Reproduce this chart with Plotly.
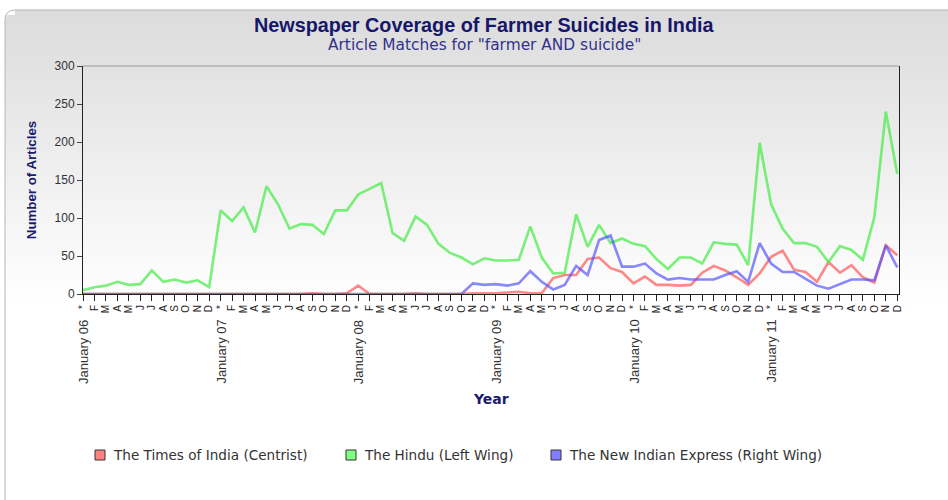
import plotly.graph_objects as go

W, H = 948, 500
L, R, T, B = 83, 49, 66, 206
PW, PH = W - L - R, H - T - B

month_letters = ["*", "F", "M", "A", "M", "J", "J", "A", "S", "O", "N", "D"]
years = ["06", "07", "08", "09", "10", "11"]
tick_labels = month_letters * len(years)
year_labels = ["January " + y for y in years]

series_names = ["The Times of India (Centrist)", "The Hindu (Left Wing)",
                "The New Indian Express (Right Wing)"]

times_of_india = [0, 0, 0, 0, 0, 0, 0, 0, 0, 0, 0, 0,
                  0, 0, 0, 0, 0, 0, 0, 0, 1, 0, 0, 1,
                  11, 0, 0, 0, 0, 1, 0, 0, 0, 0, 1, 1,
                  1, 2, 3, 1, 1, 21, 25, 25, 46, 48, 34, 29,
                  14, 23, 12, 12, 11, 12, 28, 37, 31, 22, 12, 27,
                  49, 57, 32, 29, 16, 42, 28, 38, 22, 15, 64, 51]
the_hindu = [5, 9, 11, 16, 12, 13, 31, 16, 19, 15, 18, 9,
             110, 96, 114, 81, 142, 118, 86, 92, 91, 79, 110, 110,
             131, 138, 146, 80, 70, 102, 91, 66, 54, 48, 39, 47,
             44, 44, 45, 89, 48, 27, 28, 105, 62, 91, 67, 73,
             66, 63, 46, 33, 48, 48, 40, 68, 66, 65, 38, 199,
             118, 86, 67, 67, 62, 42, 63, 58, 45, 101, 240, 158]
new_indian_express = [0, 0, 0, 0, 0, 0, 0, 0, 0, 0, 0, 0,
                      0, 0, 0, 0, 0, 0, 0, 0, 0, 0, 0, 0,
                      0, 0, 0, 0, 0, 0, 0, 0, 0, 0, 14, 12,
                      13, 11, 14, 30, 16, 6, 12, 37, 25, 71, 77, 36,
                      36, 40, 27, 19, 21, 19, 19, 19, 25, 30, 16, 67,
                      40, 29, 29, 20, 11, 7, 13, 19, 19, 18, 64, 35]

y_ticks = [0, 50, 100, 150, 200, 250, 300]

x_idx = list(range(len(tick_labels)))

line_colors = ["rgba(255,80,80,0.68)", "rgba(70,235,70,0.72)", "rgba(80,80,255,0.68)"]
box_colors = ["#ff8080", "#80ff80", "#8080ff"]
all_series = [times_of_india, the_hindu, new_indian_express]

def px(xp):
    return (xp - L) / PW

def py(yp):
    return (H - B - yp) / PH

fig = go.Figure()
for name, vals, lc in zip(series_names, all_series, line_colors):
    fig.add_trace(go.Scatter(x=x_idx, y=vals, mode="lines", name=name,
                             line=dict(color=lc, width=2.6), showlegend=False,
                             hoverinfo="x+y+name"))

shapes = []
top, bot, left = 10, 300, 5
rad = 10
nb = 58
for i in range(nb):
    y0 = top + (bot - top) * i / nb
    y1 = top + (bot - top) * (i + 1) / nb
    g = int(220 + (255 - 220) * (i + 0.5) / nb)
    xl = left
    if y0 < top + rad:
        d = top + rad - y0
        xl = left + rad - (rad ** 2 - min(d, rad) ** 2) ** 0.5
    shapes.append(dict(type="rect", xref="paper", yref="paper", layer="below",
                       x0=px(xl), x1=px(W + 20), y0=py(y0), y1=py(y1 + 0.6),
                       fillcolor=f"rgb({g},{g},{g})", line=dict(width=0)))
path = (f"M {px(left)},{py(H + 10)} L {px(left)},{py(top + rad)} "
        f"Q {px(left)},{py(top)} {px(left + rad)},{py(top)} L {px(W + 20)},{py(top)}")
shapes.append(dict(type="path", xref="paper", yref="paper", layer="below", path=path,
                   line=dict(color="#b5b5b5", width=1)))
shapes.append(dict(type="line", xref="paper", yref="paper", x0=0, x1=1, y0=1, y1=1,
                   line=dict(color="#9a9a9a", width=1)))

annotations = []
legend_box_x = [95, 346, 551]
for name, bc, bx in zip(series_names, box_colors, legend_box_x):
    shapes.append(dict(type="rect", xref="paper", yref="paper",
                       x0=px(bx), x1=px(bx + 10), y0=py(450), y1=py(460),
                       fillcolor=bc, line=dict(color="#333333", width=1)))
    annotations.append(dict(x=px(bx + 16), y=py(455), xref="paper", yref="paper",
                            text=name, showarrow=False, xanchor="left", yanchor="middle",
                            font=dict(size=13.6, color="#333333", family="DejaVu Sans")))

for i, lab in enumerate(year_labels):
    annotations.append(dict(x=i * 12, y=py(318), xref="x", yref="paper", text=lab,
                            textangle=-90, showarrow=False, yanchor="top", xanchor="center",
                            font=dict(size=13, color="#333333", family="Liberation Sans")))
annotations.append(dict(x=px(491), y=py(399), xref="paper", yref="paper", text="<b>Year</b>",
                        showarrow=False, yanchor="middle", xanchor="center",
                        font=dict(size=14, color="#1a1a6e", family="DejaVu Sans")))
annotations.append(dict(x=px(484), y=py(25), xref="paper", yref="paper",
                        text="<b>Newspaper Coverage of Farmer Suicides in India</b>",
                        showarrow=False, yanchor="middle", xanchor="center",
                        font=dict(size=19.8, color="#16166b", family="Liberation Sans")))
annotations.append(dict(x=px(484), y=py(45), xref="paper", yref="paper",
                        text='Article Matches for "farmer AND suicide"',
                        showarrow=False, yanchor="middle", xanchor="center",
                        font=dict(size=15.4, color="#33338a", family="DejaVu Sans")))

fig.update_layout(
    width=W, height=H,
    margin=dict(l=L, r=R, t=T, b=B, pad=0, autoexpand=False),
    paper_bgcolor="white", plot_bgcolor="rgba(0,0,0,0)",
    font=dict(family="Liberation Sans", color="#222222"),
    shapes=shapes, annotations=annotations,
    showlegend=False,
    xaxis=dict(range=[0, 71.15], tickmode="array", tickvals=x_idx, ticktext=tick_labels,
               tickangle=-90, ticks="outside", ticklen=6, tickcolor="#222",
               showline=True, linecolor="#222", linewidth=1, showgrid=False,
               zeroline=False, automargin=False, tickfont=dict(size=10, color="#222")),
    yaxis=dict(range=[0, 300], tickvals=y_ticks, ticks="outside", ticklen=5,
               tickcolor="#444", showline=True, linecolor="#222", linewidth=1,
               mirror=True, showgrid=False, zeroline=False, automargin=False,
               tickfont=dict(size=12, color="#333"),
               title=dict(text="<b>Number of Articles</b>", standoff=14,
                          font=dict(size=13.3, color="#1a1a6e"))),
)
fig.write_html("out.html", config={"displayModeBar": False},
               post_script="document.body.style.margin='0px';")
